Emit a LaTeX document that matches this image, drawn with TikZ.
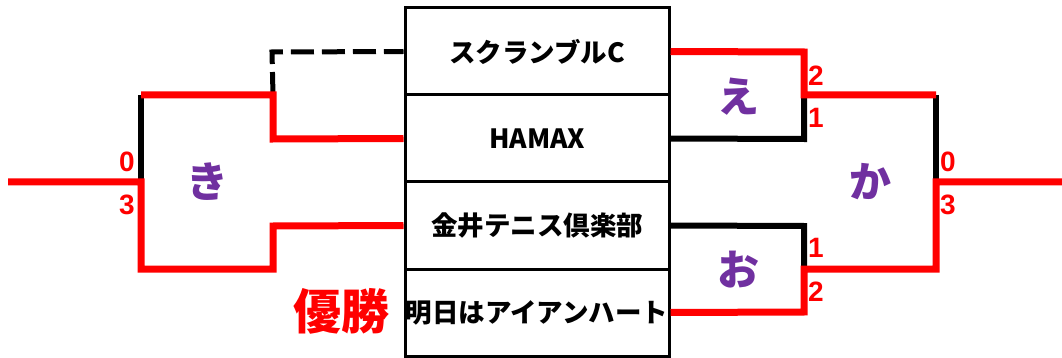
\documentclass[tikz,border=0pt]{standalone}
\usepackage{fontspec}
\setmainfont{Liberation Sans}
\newfontfamily\jp{Noto Sans CJK JP}
\definecolor{bred}{RGB}{255,0,0}
\definecolor{kpurple}{RGB}{112,48,160}
\tikzset{
  cell/.style={draw=black,line width=3pt,minimum width=264pt,minimum height=87pt,inner sep=0pt,font=\jp\bfseries\fontsize{26.5}{26.5}\selectfont},
  redln/.style={draw=bred,line width=7pt},
  blkln/.style={draw=black,line width=6pt},
  dashln/.style={draw=black,line width=5pt,dash pattern=on 23pt off 8pt},
  score/.style={text=bred,font=\bfseries\fontsize{28}{28}\selectfont,inner sep=0pt},
  kana/.style={text=kpurple,font=\jp\bfseries\fontsize{42}{42}\selectfont,inner sep=0pt}
}
\begin{document}
\begin{tikzpicture}[x=1pt,y=-1pt]
\useasboundingbox (0,0) rectangle (1062,358);
% table cells
\node[cell] (t1) at (537,51.5) {スクランブルC};
\node[cell] (t2) at (537,138.5) {HAMAX};
\node[cell] (t3) at (537,225.5) {金井テニス倶楽部};
\node[cell] (t4) at (537,312.5) {明日はアイアンハート};
% joints
\coordinate (Lin) at (8,182);
\coordinate (Lm) at (141,182);
\coordinate (Ltop) at (141,95);
\coordinate (Lbot) at (141,269);
\coordinate (La) at (273,95);
\coordinate (Lb) at (273,139);
\coordinate (Lc) at (273,269);
\coordinate (Ld) at (273,226);
\coordinate (Le) at (272,52);
\coordinate (Ra) at (804,52);
\coordinate (Rb) at (804,95);
\coordinate (Rc) at (804,139);
\coordinate (Rd) at (804,226);
\coordinate (Re) at (804,269);
\coordinate (Rf) at (804,312);
\coordinate (Rtop) at (936,95);
\coordinate (Rm) at (936,182);
\coordinate (Rbot) at (936,269);
\coordinate (Rout) at (1062,182);
% left bracket
\draw[dashln] (La) -- (Le) -- (t1.west);
\draw[blkln] (Ltop) -- (Lm);
\draw[redln] (Ltop) -- (La) -- (Lb) -- (t2.west);
\draw[redln] (Lin) -- (Lm) -- (Lbot) -- (Lc) -- (Ld) -- (t3.west);
% right bracket
\draw[blkln] (Rb) -- (Rc) -- (t2.east);
\draw[blkln] (Re) -- (Rd) -- (t3.east);
\draw[blkln] (Rtop) -- (Rm);
\draw[redln] (t1.east) -- (Ra) -- (Rb) -- (Rtop);
\draw[redln] (Rout) -- (Rm) -- (Rbot) -- (Re) -- (Rf) -- (t4.east);
% scores
\node[score] (s1) at (127,162) {0};
\node[score] (s2) at (127,205) {3};
\node[score] (s3) at (816,76) {2};
\node[score] (s4) at (816,118) {1};
\node[score] (s5) at (816,248) {1};
\node[score] (s6) at (816,292) {2};
\node[score] (s7) at (948,162) {0};
\node[score] (s8) at (948,205) {3};
% match labels
\node[kana] (ki) at (207,182) {き};
\node[kana] (e) at (738,97) {え};
\node[kana] (o) at (738,270) {お};
\node[kana] (ka) at (870,182) {か};
\node[text=bred,font=\jp\bfseries\fontsize{48}{48}\selectfont,inner sep=0pt] (win) at (341,311) {優勝};
\end{tikzpicture}
\end{document}
